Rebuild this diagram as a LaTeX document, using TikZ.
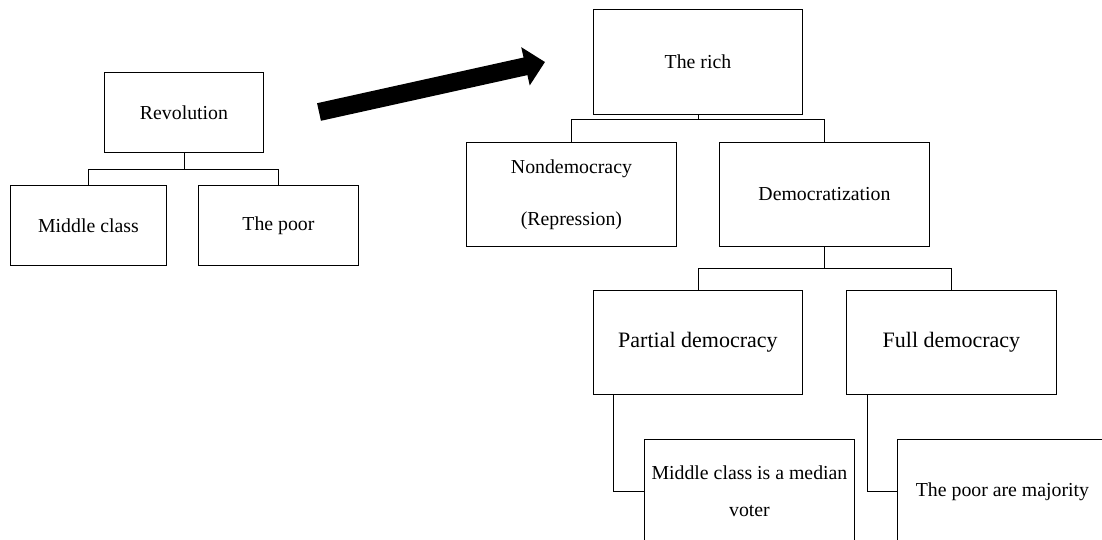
\documentclass[tikz,border=0pt]{standalone}
\usepackage{fontspec}
\setmainfont{Liberation Serif}
\usetikzlibrary{arrows.meta}
\begin{document}
\begin{tikzpicture}[x=1pt,y=-1pt,
  box/.style={draw, line width=0.9pt, anchor=north west, inner sep=0pt,
              align=center, font=\fontsize{19.8}{24}\selectfont},
  bigtext/.style={font=\fontsize{22}{26}\selectfont},
  link/.style={draw, line width=0.9pt},
  bigarrow/.style={line width=18pt, -{Triangle[length=20pt,width=38pt]}}]
\clip (0,0) rectangle (1102,540);
\fill[white] (0,0) rectangle (1102,540);

% left tree
\node[box, minimum width=159pt, minimum height=80pt] (rev) at (104,72) {Revolution};
\node[box, minimum width=156pt, minimum height=80pt] (mid) at (10,185) {Middle class};
\node[box, minimum width=160pt, minimum height=80pt] (poor) at (198,185) {The poor};
\draw[link] (rev.south) -- ++(0,17) -| (mid.north);
\draw[link] (rev.south) ++(0,17) -| (poor.north);

% block arrow between the trees
\coordinate (atail) at (319,112);
\coordinate (atip) at (545,62);
\draw[bigarrow] (atail) -- (atip);

% right tree
\node[box, minimum width=209pt, minimum height=105pt] (rich) at (593,9) {The rich};
\node[box, minimum width=210pt, minimum height=104pt,
      font=\fontsize{19.8}{52}\selectfont] (nondem) at (466,142) {Nondemocracy\\(Repression)};
\node[box, minimum width=210pt, minimum height=104pt] (democ) at (719,142) {Democratization};
\draw[link] (rich.south) -- ++(0,5) -| (nondem.north);
\draw[link] (rich.south) ++(0,5) -| (democ.north);

\node[box, bigtext, minimum width=209pt, minimum height=104pt] (partial) at (593,290) {Partial democracy};
\node[box, bigtext, minimum width=210pt, minimum height=104pt] (full) at (846,290) {Full democracy};
\draw[link] (democ.south) -- ++(0,22) -| (partial.north);
\draw[link] (democ.south) ++(0,22) -| (full.north);

\node[box, minimum width=210pt, minimum height=104pt,
      font=\fontsize{19.8}{37}\selectfont] (median) at (644,439) {Middle class is a median\\voter};
\node[box, minimum width=210pt, minimum height=104pt] (major) at (897,439) {The poor are majority};
\draw[link] ([xshift=20pt]partial.south west) |- (median.west);
\draw[link] ([xshift=21pt]full.south west) |- (major.west);
\end{tikzpicture}
\end{document}
